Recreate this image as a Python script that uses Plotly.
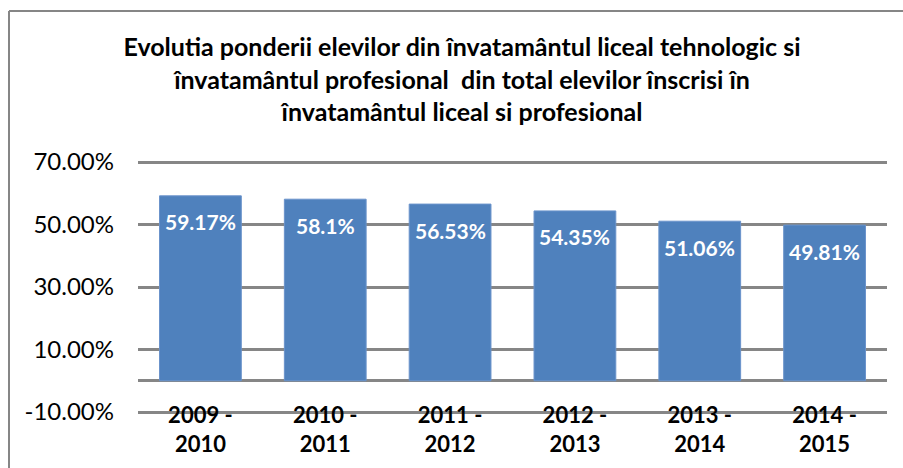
import plotly.graph_objects as go

categories = ["2009 -<br>2010", "2010 -<br>2011", "2011 -<br>2012",
              "2012 -<br>2013", "2013 -<br>2014", "2014 -<br>2015"]
values = [59.17, 58.1, 56.53, 54.35, 51.06, 49.81]
y_tickvals = [-10, 10, 30, 50, 70]
y_ticktext = ["-10.00%", "10.00%", "30.00%", "50.00%", "70.00%"]
title_lines = ["Evolutia ponderii elevilor din învatamântul liceal tehnologic si",
               "învatamântul profesional  din total elevilor înscrisi în",
               "învatamântul liceal si profesional"]

FONT = "Lato"
GRID = "#868686"

W, H = 903, 468
L, R, T, B = 138, 16, 160, 54
PW, PH = W - L - R, H - T - B

fig = go.Figure()
fig.add_trace(go.Bar(
    x=categories, y=values, width=0.655,
    marker=dict(color="#4F81BD", line=dict(color="#6A93CB", width=1)),
    hoverinfo="skip",
))

for c, v in zip(categories, values):
    fig.add_annotation(x=c, y=v, text=f"{v}%", showarrow=False, yshift=-26,
                       yanchor="middle",
                       font=dict(family=FONT, size=21, color="white", weight="bold"))

# chart-area frame (only its top and left edges fall inside the picture)
fx0 = (9 - L) / PW
fy1 = (H - B - 11) / PH
frame = dict(color="#868686", width=2)

fig.update_layout(
    width=W, height=H,
    margin=dict(l=L, r=R, t=T, b=B, autoexpand=False),
    paper_bgcolor="white", plot_bgcolor="white",
    showlegend=False,
    title=dict(text="<br>".join(title_lines), x=462 / W, xanchor="center",
               y=1 - 56 / H, yanchor="top", yref="container", automargin=False,
               font=dict(family=FONT, size=25, color="black", weight="bold")),
    xaxis=dict(showgrid=False, showline=False, ticks="", anchor="free", position=0.054,
               automargin=False,
               tickfont=dict(family=FONT, size=22, color="black", weight="bold")),
    yaxis=dict(range=[-10.64, 70.64], tickvals=y_tickvals, ticktext=y_ticktext,
               showgrid=True, gridcolor=GRID, gridwidth=3,
               zeroline=True, zerolinecolor=GRID, zerolinewidth=3,
               showline=False, ticks="", ticklabelstandoff=23, automargin=False,
               tickfont=dict(family=FONT, size=24, color="black")),
    shapes=[
        dict(type="line", xref="paper", yref="paper", x0=fx0, x1=1.2, y0=fy1, y1=fy1,
             line=frame, layer="below"),
        dict(type="line", xref="paper", yref="paper", x0=fx0, x1=fx0, y0=fy1, y1=-0.5,
             line=frame, layer="below"),
    ],
)

fig.write_html(
    "out.html",
    config={"displayModeBar": False},
    post_script="document.body.style.margin='0';document.body.style.overflow='hidden';",
)
